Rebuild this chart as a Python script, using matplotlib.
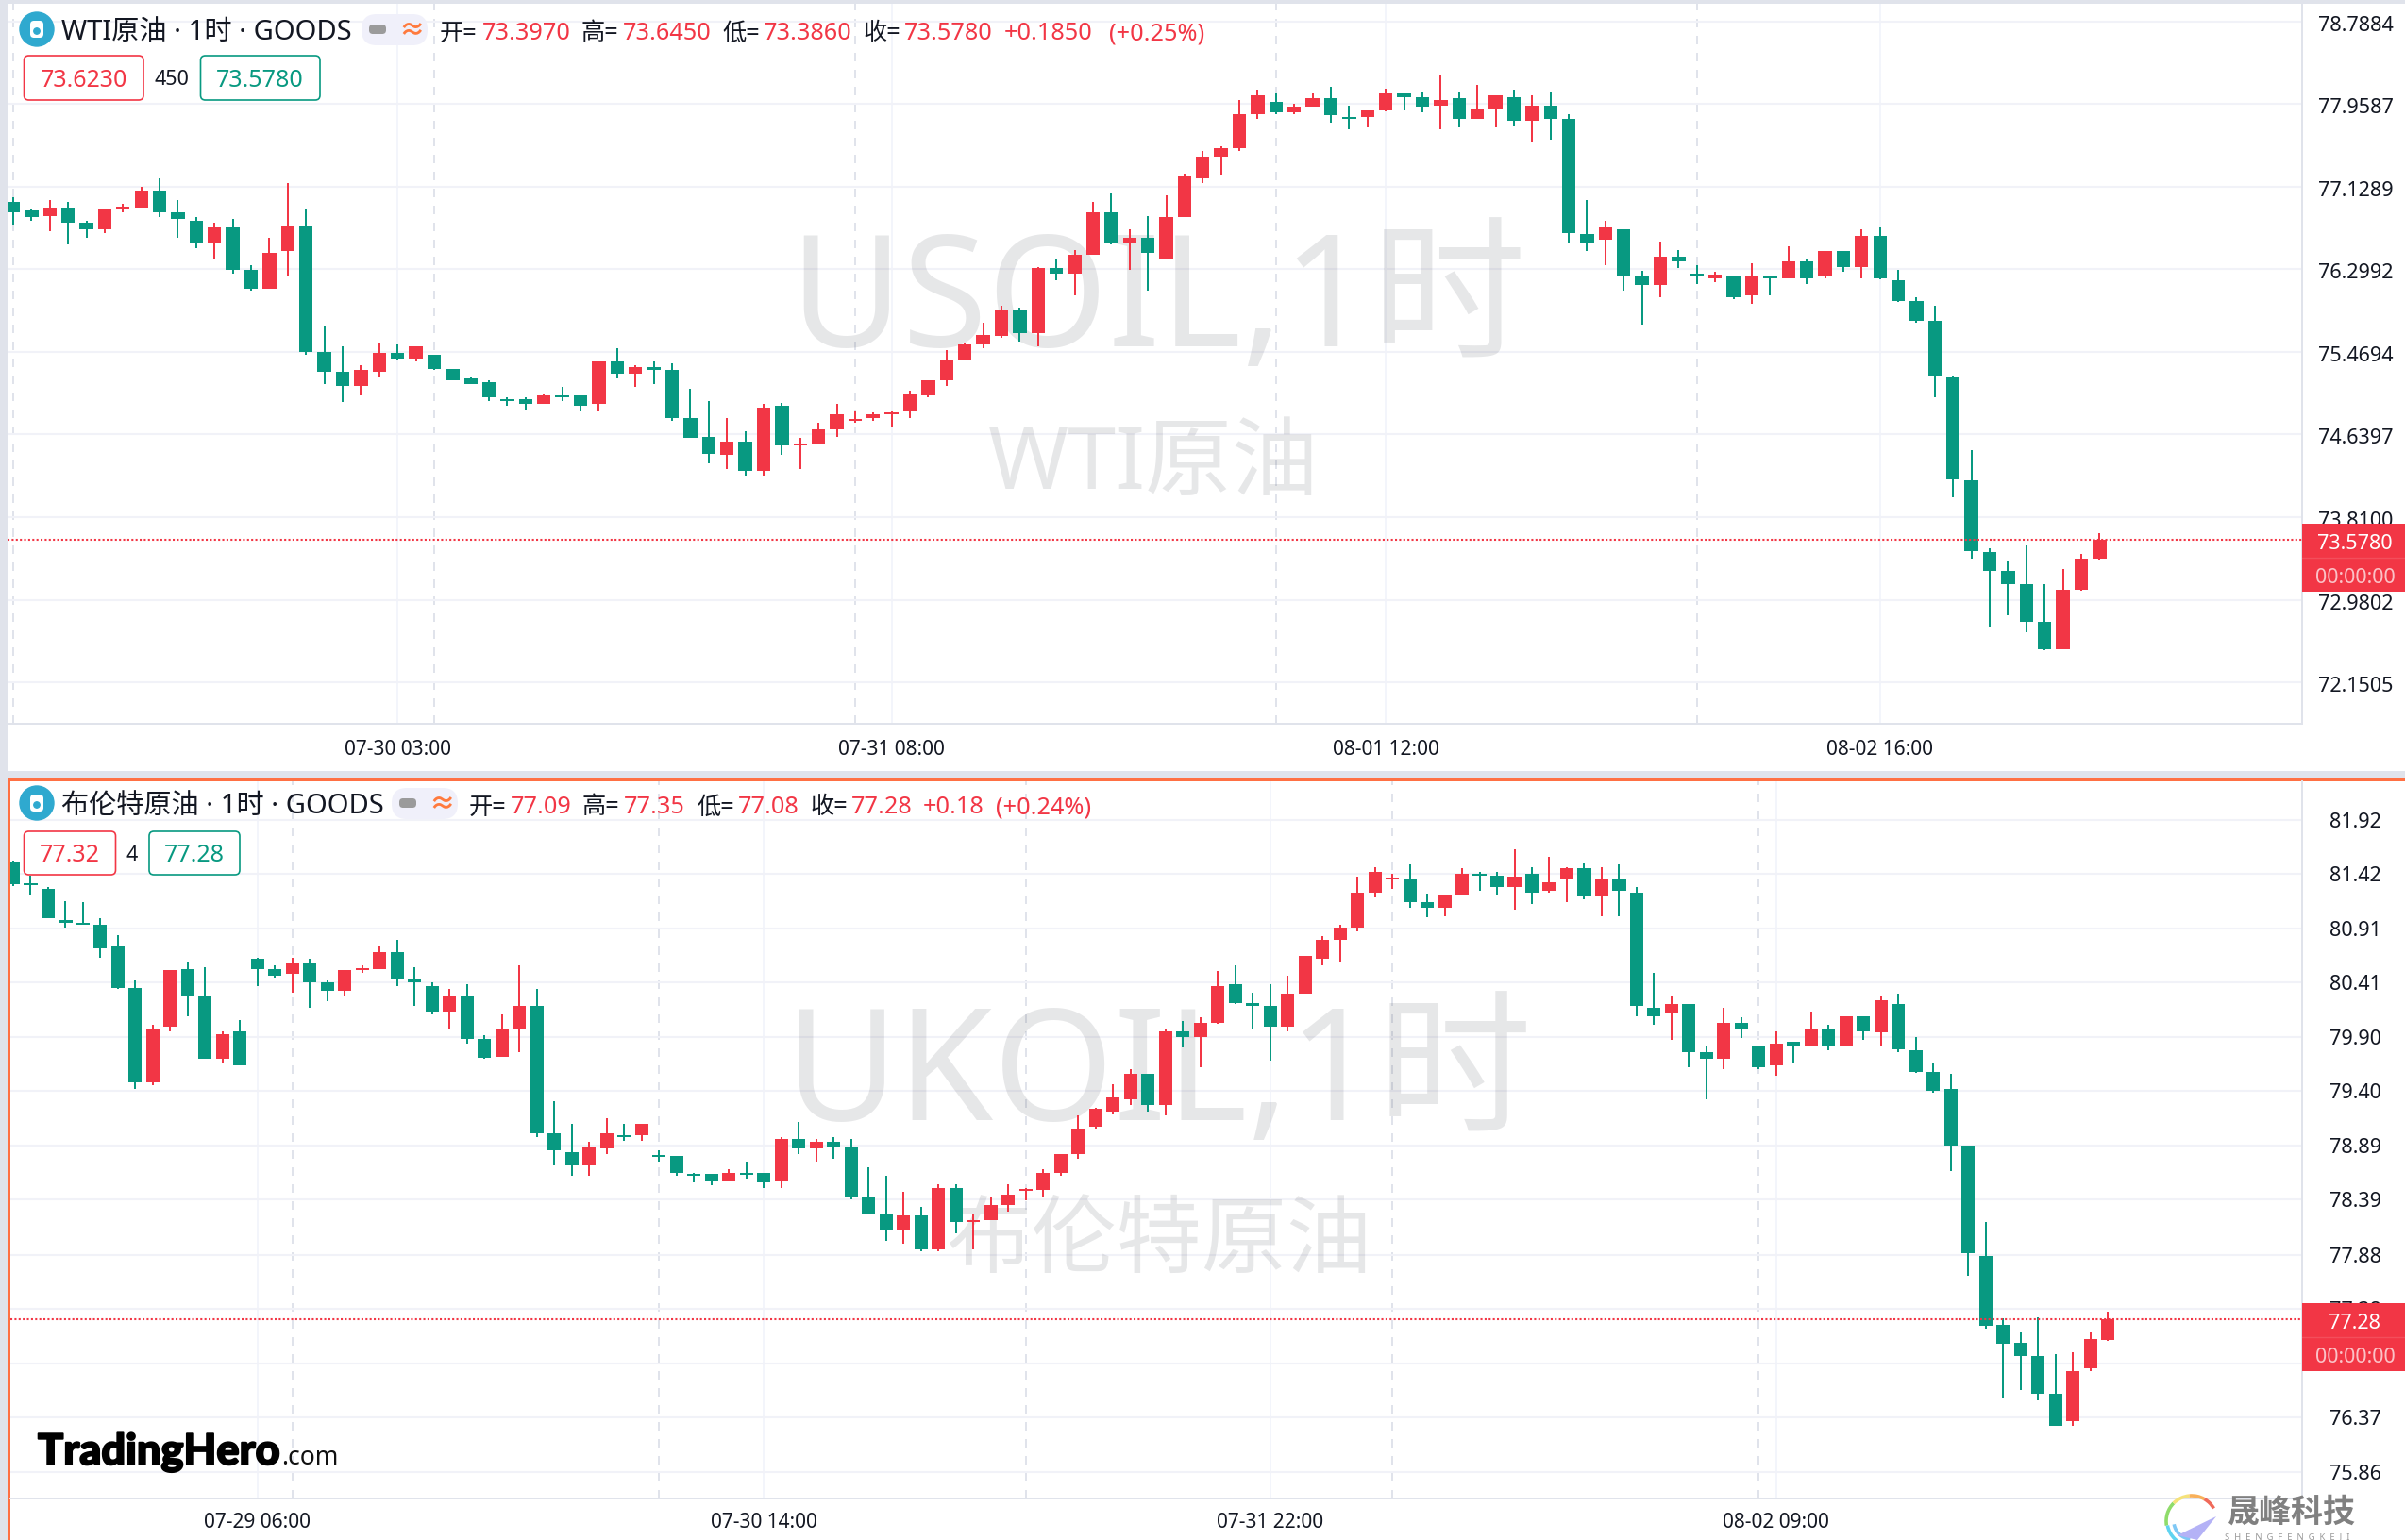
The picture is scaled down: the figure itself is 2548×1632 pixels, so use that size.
import matplotlib
matplotlib.use('Agg')
import matplotlib.pyplot as plt
import matplotlib.patheffects as pe
from matplotlib.patches import Rectangle, FancyBboxPatch, Circle, Arc, Polygon
from matplotlib.transforms import ScaledTranslation

plt.rcParams['font.family'] = ['Noto Sans', 'Noto Sans CJK SC', 'DejaVu Sans']

RED = '#f23645'
GREEN = '#089981'
GRID = '#f1f2f8'
AXIS = '#e0e3eb'
ORANGE = '#ff7043'
W, H = 2548, 1632

# WTI candles
top_open = [76.975,76.890,76.833,76.918,76.767,76.700,76.912,76.918,77.089,76.871,
    76.786,76.568,76.719,76.293,76.103,76.482,76.738,75.468,75.269,75.127,
    75.269,75.458,75.402,75.440,75.297,75.203,75.165,74.994,74.994,74.947,
    75.032,75.032,74.947,75.373,75.250,75.316,75.288,74.805,74.615,74.435,
    74.568,74.274,74.928,74.530,74.549,74.691,74.776,74.804,74.842,74.871,
    75.032,75.184,75.383,75.544,75.629,75.895,75.658,76.312,76.255,76.444,
    76.871,76.568,76.615,76.406,76.824,77.212,77.430,77.516,77.857,77.980,
    77.876,77.933,78.018,77.828,77.828,77.895,78.065,78.028,77.942,78.018,
    77.810,77.914,78.028,77.791,77.942,77.810,76.651,76.596,76.702,76.236,
    76.143,76.427,76.253,76.207,76.236,76.037,76.236,76.207,76.380,76.228,
    76.482,76.321,76.634,76.190,75.978,75.779,75.212,74.179,73.460,73.270,
    73.134,72.758,72.482,73.079,73.397]
top_high = [77.023,76.909,76.994,76.975,76.786,76.909,76.956,77.127,77.212,76.994,
    76.824,76.767,76.805,76.340,76.615,77.165,76.909,75.724,75.525,75.335,
    75.553,75.544,75.525,75.440,75.297,75.212,75.184,75.013,75.013,75.042,
    75.117,75.032,75.373,75.506,75.335,75.373,75.354,75.098,74.975,74.805,
    74.672,74.947,74.956,74.605,74.757,74.947,74.871,74.861,74.871,75.079,
    75.184,75.487,75.553,75.762,75.932,75.914,76.321,76.397,76.492,76.975,
    77.061,76.700,76.833,77.042,77.260,77.487,77.535,77.999,78.103,78.065,
    77.961,78.065,78.132,77.942,77.895,78.113,78.065,78.084,78.255,78.084,
    78.151,78.047,78.103,78.047,78.084,77.857,76.994,76.786,76.702,76.287,
    76.579,76.490,76.342,76.274,76.236,76.359,76.236,76.528,76.397,76.482,
    76.482,76.702,76.719,76.291,76.016,75.932,75.229,74.484,73.494,73.371,
    73.524,73.134,73.287,73.439,73.645]
top_low = [76.751,76.786,76.681,76.549,76.615,76.662,76.871,76.918,76.824,76.615,
    76.511,76.397,76.255,76.084,76.103,76.226,75.440,75.146,74.970,75.032,
    75.212,75.383,75.373,75.288,75.184,75.146,74.975,74.928,74.890,74.947,
    74.975,74.871,74.871,75.203,75.117,75.146,74.776,74.605,74.350,74.293,
    74.226,74.226,74.435,74.293,74.549,74.615,74.757,74.776,74.719,74.804,
    75.013,75.127,75.383,75.506,75.610,75.572,75.525,76.188,76.037,76.444,
    76.549,76.293,76.084,76.406,76.824,77.165,77.250,77.487,77.810,77.857,
    77.857,77.933,77.772,77.705,77.724,77.885,77.895,77.876,77.705,77.724,
    77.810,77.724,77.743,77.573,77.601,76.568,76.482,76.342,76.084,75.741,
    76.016,76.312,76.152,76.169,75.999,75.953,76.037,76.207,76.152,76.207,
    76.274,76.207,76.194,75.974,75.762,75.013,74.010,73.392,72.711,72.825,
    72.652,72.474,72.482,73.071,73.386]
top_close = [76.871,76.824,76.918,76.767,76.700,76.909,76.918,77.089,76.871,76.805,
    76.568,76.719,76.293,76.103,76.463,76.738,75.468,75.269,75.127,75.288,
    75.458,75.402,75.525,75.297,75.184,75.146,75.013,74.975,74.947,75.032,
    75.013,74.928,75.373,75.250,75.316,75.288,74.805,74.605,74.444,74.568,
    74.274,74.909,74.530,74.549,74.691,74.842,74.785,74.842,74.861,75.041,
    75.184,75.383,75.544,75.639,75.895,75.658,76.312,76.255,76.444,76.871,
    76.568,76.615,76.463,76.824,77.231,77.430,77.516,77.857,78.047,77.876,
    77.933,78.018,77.847,77.810,77.895,78.065,78.028,77.933,77.999,77.810,
    77.914,78.047,77.791,77.942,77.810,76.662,76.566,76.719,76.236,76.143,
    76.427,76.380,76.228,76.241,76.016,76.236,76.207,76.380,76.207,76.482,
    76.321,76.634,76.207,75.978,75.779,75.233,74.192,73.464,73.270,73.134,
    72.758,72.482,73.079,73.392,73.578]
top_yticks = [78.7884,77.9587,77.1289,76.2992,75.4694,74.6397,73.81,72.9802,72.1505]
top_ylabels = ['78.7884','77.9587','77.1289','76.2992','75.4694','74.6397','73.8100','72.9802','72.1505']
top_xticks = [21, 48, 75, 102]
top_xlabels = ['07-30 03:00', '07-31 08:00', '08-01 12:00', '08-02 16:00']
top_dashes = [0, 23, 46, 69, 92]
top_last = 73.578

# Brent candles
bot_open = [81.53,81.32,81.28,80.99,80.96,80.94,80.74,80.36,79.48,80.00,
    80.53,80.29,79.70,79.95,80.63,80.53,80.49,80.58,80.41,80.33,
    80.52,80.53,80.69,80.44,80.37,80.14,80.29,79.88,79.72,79.98,
    80.19,79.01,78.83,78.71,78.87,78.99,78.99,78.80,78.80,78.63,
    78.63,78.56,78.64,78.64,78.56,78.95,78.87,78.93,78.88,78.42,
    78.26,78.10,78.24,77.93,78.50,78.18,78.20,78.34,78.47,78.48,
    78.64,78.81,79.07,79.21,79.32,79.56,79.27,79.95,79.90,80.03,
    80.39,80.22,80.19,80.00,80.30,80.63,80.80,80.92,81.24,81.36,
    81.37,81.15,81.10,81.22,81.42,81.40,81.29,81.42,81.26,81.36,
    81.47,81.21,81.37,81.24,80.17,80.13,80.21,79.76,79.70,80.03,
    79.82,79.64,79.86,79.82,79.98,79.82,80.09,79.94,80.21,79.78,
    79.58,79.42,78.89,77.87,77.23,77.06,76.94,76.59,76.33,76.82,
    77.09]
bot_high = [81.54,81.40,81.29,81.16,81.15,81.00,80.85,80.43,80.01,80.52,
    80.60,80.55,79.95,80.06,80.64,80.57,80.64,80.63,80.43,80.52,
    80.57,80.74,80.80,80.55,80.41,80.35,80.39,79.92,80.11,80.57,
    80.35,79.30,79.09,78.93,79.15,79.09,79.09,78.85,78.80,78.64,
    78.63,78.67,78.74,78.64,78.97,79.11,78.95,78.97,78.95,78.69,
    78.61,78.46,78.32,78.53,78.53,78.25,78.42,78.53,78.50,78.67,
    78.81,79.17,79.24,79.46,79.60,79.56,79.97,80.05,80.08,80.51,
    80.57,80.31,80.39,80.47,80.65,80.84,80.94,81.39,81.48,81.42,
    81.50,81.23,81.22,81.47,81.43,81.43,81.64,81.48,81.57,81.48,
    81.51,81.48,81.50,81.29,80.50,80.29,80.21,79.82,80.17,80.08,
    79.82,79.95,79.86,80.14,80.01,80.09,80.09,80.29,80.30,79.90,
    79.66,79.56,78.89,78.18,77.29,77.16,77.30,76.96,76.97,77.16,
    77.35]
bot_low = [81.30,81.22,81.00,80.92,80.94,80.64,80.35,79.42,79.45,79.95,
    80.09,79.70,79.66,79.64,80.37,80.45,80.31,80.17,80.23,80.29,
    80.50,80.53,80.37,80.19,80.11,79.97,79.84,79.70,79.72,79.76,
    78.97,78.71,78.61,78.61,78.81,78.94,78.94,78.74,78.61,78.55,
    78.52,78.56,78.59,78.50,78.50,78.81,78.74,78.77,78.39,78.25,
    78.01,77.98,77.91,77.91,78.08,77.93,78.20,78.28,78.38,78.42,
    78.61,78.77,79.05,79.18,79.27,79.21,79.17,79.80,79.62,80.02,
    80.21,79.97,79.68,79.95,80.30,80.57,80.60,80.88,81.20,81.28,
    81.10,81.01,81.02,81.22,81.26,81.22,81.08,81.14,81.24,81.15,
    81.18,81.02,81.02,80.09,80.01,79.87,79.62,79.32,79.60,79.89,
    79.60,79.54,79.66,79.82,79.78,79.81,79.87,79.82,79.76,79.57,
    79.38,78.66,77.68,77.19,76.55,76.62,76.53,76.29,76.29,76.80,
    77.08]
bot_close = [81.32,81.31,81.00,80.96,80.94,80.72,80.36,79.48,79.98,80.52,
    80.29,79.70,79.93,79.64,80.53,80.47,80.58,80.41,80.33,80.52,
    80.54,80.69,80.44,80.41,80.14,80.29,79.88,79.71,79.97,80.19,
    79.01,78.85,78.71,78.88,79.01,78.97,79.09,78.79,78.64,78.61,
    78.56,78.64,78.62,78.55,78.95,78.87,78.93,78.88,78.42,78.25,
    78.10,78.24,77.93,78.50,78.18,78.20,78.34,78.44,78.48,78.64,
    78.81,79.05,79.23,79.34,79.56,79.27,79.95,79.90,80.03,80.37,
    80.22,80.19,80.00,80.30,80.65,80.80,80.92,81.24,81.43,81.37,
    81.15,81.10,81.22,81.42,81.40,81.29,81.39,81.24,81.34,81.47,
    81.21,81.37,81.26,80.19,80.09,80.21,79.76,79.70,80.03,79.97,
    79.62,79.84,79.82,79.98,79.82,80.09,79.95,80.24,79.79,79.58,
    79.40,78.89,77.89,77.22,77.05,76.94,76.59,76.29,76.80,77.10,
    77.28]
bot_yticks = [81.92,81.42,80.91,80.41,79.90,79.40,78.89,78.39,77.88,77.38,76.87,76.37,75.86]
bot_ylabels = ['81.92','81.42','80.91','80.41','79.90','79.40','78.89','78.39','77.88','77.38','76.87','76.37','75.86']
bot_xticks = [14, 43, 72, 101]
bot_xlabels = ['07-29 06:00', '07-30 14:00', '07-31 22:00', '08-02 09:00']
bot_dashes = [16, 37, 58, 79, 100]
bot_last = 77.28


def pix_axes(fig, z):
    # full figure axes in pixel coordinates, y pointing down
    a = fig.add_axes([0, 0, 1, 1], zorder=z)
    a.set_xlim(0, W)
    a.set_ylim(H, 0)
    a.axis('off')
    return a


def chart_axes(fig, left, top, right, bottom, xlim, ylim):
    ax = fig.add_axes([left / W, 1 - bottom / H, (right - left) / W, (bottom - top) / H], zorder=1)
    ax.set_facecolor('none')
    ax.set_xlim(*xlim)
    ax.set_ylim(*ylim)
    for s in ['top', 'left']:
        ax.spines[s].set_visible(False)
    for s in ['right', 'bottom']:
        ax.spines[s].set_color(AXIS)
        ax.spines[s].set_linewidth(1.4)
    return ax


def draw_candles(ax, o, h, l, c, body, min_h):
    xs = list(range(len(o)))
    colors = [RED if c[i] >= o[i] else GREEN for i in xs]
    ax.vlines(xs, l, h, colors=colors, linewidth=1.44, zorder=3)
    lows = [min(o[i], c[i]) for i in xs]
    sizes = [max(abs(c[i] - o[i]), min_h) for i in xs]
    ax.bar(xs, sizes, bottom=lows, width=body, color=colors, linewidth=0, zorder=4)


def style_chart(ax, xticks, xlabels, yticks, ylabels, dashes, last, xpad, ydrop):
    ax.set_xticks(xticks, xlabels)
    ax.set_yticks(yticks, ylabels)
    ax.yaxis.tick_right()
    ax.tick_params(axis='x', length=0, labelsize=15, pad=xpad, labelcolor='#131722')
    ax.tick_params(axis='y', length=0, labelsize=15.5, pad=41, labelcolor='#131722')
    for t in ax.get_yticklabels():
        t.set_ha('center')
        t.set_transform(t.get_transform() + ScaledTranslation(0, -ydrop / 100, fig.dpi_scale_trans))
    ax.grid(axis='y', color=GRID, linewidth=1.5, zorder=0)
    ax.grid(axis='x', color='#f0f3fa', linewidth=1.1, zorder=0)
    ax.set_axisbelow(True)
    for d in dashes:
        ax.axvline(d, color=AXIS, linewidth=1.44, linestyle=(0, (4.5, 4.5)), zorder=0.5)
    ax.axhline(last, color=RED, linewidth=1.5, linestyle=(0, (1, 1.1)), zorder=5)


def header(a, y, name, name_x, pill_x, parts):
    # icon, name, pill and the OHLC readout
    a.add_patch(Circle((39, y), 18, color='#2fa9cf'))
    a.add_patch(FancyBboxPatch((32, y - 9), 14, 18, boxstyle='round,pad=0,rounding_size=4', fc='white', ec='none'))
    a.add_patch(Circle((39, y + 2), 3.2, color='#2fa9cf'))
    a.text(name_x, y + 3, name, fontsize=21, color='#131722', va='center', ha='left')
    a.add_patch(FancyBboxPatch((pill_x, y - 16), 70, 33, boxstyle='round,pad=0,rounding_size=16', fc='#f0f0fa', ec='none'))
    a.add_patch(FancyBboxPatch((pill_x + 8, y - 5), 18, 10, boxstyle='round,pad=0,rounding_size=4', fc='#9b9b9b', ec='none'))
    a.text(pill_x + 53, y + 3, '≈', fontsize=20, color='#ff7a3d', va='center', ha='center', weight='bold')
    for px, txt, col in parts:
        a.text(px, y + 5, txt, fontsize=18.2, color=col, va='center', ha='left')


def price_boxes(a, y0, y1, red_box, green_box, red_txt, mid_txt, mid_x, green_txt):
    tc = (y0 + y1) / 2 + 2.5
    for (x0, x1), col, txt in [(red_box, RED, red_txt), (green_box, GREEN, green_txt)]:
        a.add_patch(FancyBboxPatch((x0, y0), x1 - x0, y1 - y0, boxstyle='round,pad=0,rounding_size=5',
                                   fc='white', ec=col, lw=1.2))
        a.text((x0 + x1) / 2, tc, txt, fontsize=18, color=col, va='center', ha='center')
    a.text(mid_x, tc, mid_txt, fontsize=15.5, color='#131722', va='center', ha='center')


def price_tag(a, y0, y1, price):
    a.add_patch(Rectangle((2439, y0), W - 2439, y1 - y0, fc=RED, ec='none'))
    mid = (y0 + y1) / 2
    a.plot([2439, W], [mid, mid], color='white', alpha=0.12, lw=1)
    a.text(2495, (y0 + mid) / 2 + 3, price, fontsize=15.5, color='white', va='center', ha='center')
    a.text(2495, (mid + y1) / 2 + 3, '00:00:00', fontsize=15.5, color='white', alpha=0.7, va='center', ha='center')


fig = plt.figure(figsize=(W / 100, H / 100), dpi=100, facecolor=AXIS)

bg = pix_axes(fig, -1)
bg.add_patch(Rectangle((8, 4), W - 8, 813, fc='white', ec='none'))
bg.add_patch(Rectangle((8, 825), W - 8, H - 825, fc=ORANGE, ec='none'))
bg.add_patch(Rectangle((11, 828), W - 11, H - 828, fc='white', ec='none'))

# x(i) = 14 + 19.39 i, y(p) = (79.0042 - p) * 105.5 in the upper panel
ax1 = chart_axes(fig, 8, 4, 2438.6, 767, (-0.309, 125.05), (71.734, 78.966))
style_chart(ax1, top_xticks, top_xlabels, top_yticks, top_ylabels, top_dashes, top_last, 12, 2)
draw_candles(ax1, top_open, top_high, top_low, top_close, 0.74, 0.019)

# x(i) = 14 + 18.49 i, y(p) = (89.532 - p) * 114.1 in the lower panel
ax2 = chart_axes(fig, 11, 828, 2438.6, 1588, (-0.162, 131.1), (75.615, 82.275))
style_chart(ax2, bot_xticks, bot_xlabels, bot_yticks, bot_ylabels, bot_dashes, bot_last, 11, 0)
draw_candles(ax2, bot_open, bot_high, bot_low, bot_close, 0.76, 0.018)

# watermarks go under the candles
wm = dict(color='#131722', alpha=0.1, ha='center', va='baseline', transform=bg.transData, clip_on=False, zorder=1)
ax1.text(1227, 367, 'USOIL,1时', fontsize=118, **wm)
ax1.text(1222, 518, 'WTI原油', fontsize=66, **wm)
ax2.text(1227, 1187, 'UKOIL,1时', fontsize=118, **wm)
ax2.text(1228, 1342, '布伦特原油', fontsize=65, **wm)

fg = pix_axes(fig, 5)
INK = '#131722'
header(fg, 31, 'WTI原油 · 1时 · GOODS', 65, 383, [
    (466, '开=', INK), (511, '73.3970', RED), (616, '高=', INK), (660, '73.6450', RED),
    (765, '低=', INK), (809, '73.3860', RED), (914, '收=', INK), (958, '73.5780', RED),
    (1064, '+0.1850', RED), (1175, '(+0.25%)', RED)])
price_boxes(fg, 59, 106, (25.5, 152), (212.5, 339), '73.6230', '450', 182, '73.5780')
price_tag(fg, 555, 627, '73.5780')

header(fg, 851, '布伦特原油 · 1时 · GOODS', 65, 415, [
    (497, '开=', INK), (541, '77.09', RED), (617, '高=', INK), (661, '77.35', RED),
    (738, '低=', INK), (782, '77.08', RED), (858, '收=', INK), (902, '77.28', RED),
    (978, '+0.18', RED), (1055, '(+0.24%)', RED)])
price_boxes(fg, 881, 927, (25.5, 122.5), (158, 254), '77.32', '4', 140, '77.28')
price_tag(fg, 1381, 1453, '77.28')

# site logos
fg.text(40, 1552, 'TradingHero', fontsize=32.5, weight='black', family='Lato', color='black', va='baseline', ha='left',
        path_effects=[pe.withStroke(linewidth=1.4, foreground='black')])
fg.text(298, 1552, '.com', fontsize=19, color='#111111', va='baseline', ha='left')

for col, r, t0, t1 in [('#8fdc6a', 27, 170, 225), ('#f5e27a', 27, 225, 265), ('#f8b05a', 27, 265, 300),
                       ('#f06a5a', 27, 300, 330), ('#5fd3f0', 26, 95, 170), ('#7fc8f5', 19, 95, 170)]:
    fg.add_patch(Arc((2322, 1612), 2 * r, 2 * r, theta1=t0, theta2=t1, color=col, lw=2.6))
fg.add_patch(Polygon([(2307, 1627), (2348, 1607), (2328, 1632)], fc='#b4b2f6', ec='none'))
fg.text(2360, 1613, '晟峰科技', fontsize=24.5, weight='bold', color='#808080', va='baseline', ha='left')
fg.text(2357, 1631, 'S  H  E  N  G  F  E  N  G  K  E  J  I', fontsize=6.8, color='#9a9a9a', va='baseline', ha='left')

fig.savefig('out.png', dpi=100, facecolor=fig.get_facecolor())
